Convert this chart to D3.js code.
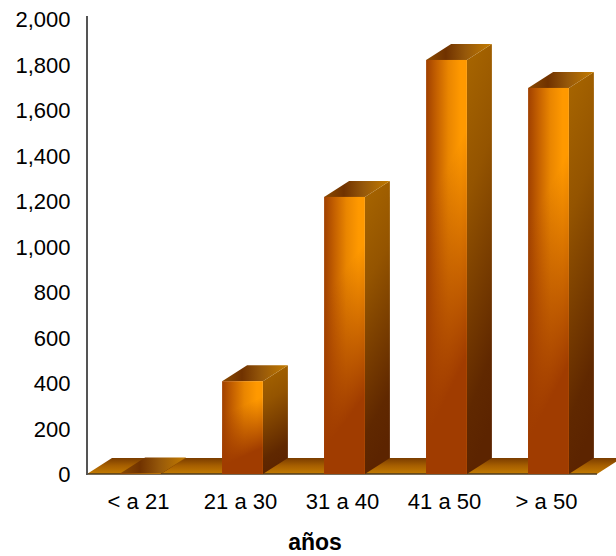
<!DOCTYPE html>
<html><head><meta charset="utf-8">
<style>html,body{margin:0;padding:0;background:#fff}svg{display:block}text{font-family:"Liberation Sans",Arial,sans-serif;fill:#000}</style>
<script src="https://cdnjs.cloudflare.com/ajax/libs/d3/7.8.5/d3.min.js"></script></head>
<body><svg id="c" width="616" height="556"></svg>
<script>
const categories=["< a 21","21 a 30","31 a 40","41 a 50","> a 50"];
const values=[2,408,1218,1820,1697];
const yTicks=[0,200,400,600,800,1000,1200,1400,1600,1800,2000];
const xAxisTitle="años";

const W=616,H=556,x0=87,floorRight=597,dx=25,dy=16;
const svg=d3.select("#c");
const y=d3.scaleLinear().domain([0,2000]).range([474,19]);
const x=d3.scaleBand().domain(categories).range([89.5,599.5]).paddingInner(0.6).paddingOuter(0.3);
const defs=svg.append("defs");
function grad(id,x2,y2,stops){
  const g=defs.append("linearGradient").attr("id",id).attr("x1",0).attr("y1",0).attr("x2",x2).attr("y2",y2);
  stops.forEach(s=>g.append("stop").attr("offset",s[0]).attr("stop-color",s[1]).attr("stop-opacity",s[2]===undefined?1:s[2]));
}
grad("front",1,0,[[0,"#a04000"],[0.25,"#c46000"],[0.55,"#ea8600"],[0.85,"#ff9900"],[1,"#ff9900"]]);
grad("frontShade",0.2,1,[[0,"#a03c00",0],[0.35,"#a03c00",0],[0.88,"#a03c00",1],[1,"#a03c00",1]]);
grad("side",0.15,1,[[0,"#a86600"],[0.35,"#945400"],[0.85,"#602800"],[1,"#5c2400"]]);
grad("top",1,0,[[0,"#8a4a00"],[0.3,"#703200"],[0.6,"#96580a"],[1,"#c47c00"]]);
grad("floor",0,1,[[0,"#7a3c00"],[0.5,"#a86000"],[1,"#c47c00"]]);

const pts=a=>a.map(p=>p.join(",")).join(" ");
// floor
svg.append("polygon").attr("fill","url(#floor)")
  .attr("points",pts([[x0,y(0)],[x0+dx,y(0)-dy],[floorRight+dx,y(0)-dy],[floorRight,y(0)]]));
svg.append("line").attr("x1",x0).attr("x2",floorRight).attr("y1",y(0)).attr("y2",y(0))
  .attr("stroke","#4a3a20").attr("stroke-width",1.6);
svg.append("line").attr("x1",x0).attr("x2",x0).attr("y1",y(2000)-3).attr("y2",y(0)+1)
  .attr("stroke","#555").attr("stroke-width",2);

// bars
const bars=svg.append("g").selectAll("g").data(values).join("g");
bars.each(function(v,i){
  const g=d3.select(this),l=x(categories[i]),r=l+x.bandwidth(),t=y(v),b=y(0);
  g.append("polygon").attr("fill","url(#side)").attr("points",pts([[r,t],[r+dx,t-dy],[r+dx,b-dy],[r,b]]));
  g.append("polygon").attr("fill","url(#top)").attr("points",pts([[l,t],[l+dx,t-dy],[r+dx,t-dy],[r,t]]));
  g.append("rect").attr("x",l).attr("y",t).attr("width",x.bandwidth()).attr("height",b-t).attr("fill","url(#front)");
  g.append("rect").attr("x",l).attr("y",t).attr("width",x.bandwidth()).attr("height",b-t).attr("fill","url(#frontShade)");
});

// axes
const ya=svg.append("g").attr("transform","translate(70.5,0)")
  .call(d3.axisLeft(y).tickValues(yTicks).tickFormat(d3.format(",")).tickSize(0).tickPadding(0));
ya.select(".domain").remove();
ya.selectAll("text").attr("font-size",22).attr("font-family",null).attr("dy","0.35em");
const xa=svg.append("g").attr("transform","translate(-2,493)")
  .call(d3.axisBottom(x).tickSize(0).tickPadding(0));
xa.select(".domain").remove();
xa.selectAll("text").attr("font-size",22).attr("font-family",null).attr("dy","0.72em");
svg.append("text").attr("x",315).attr("y",550).attr("text-anchor","middle")
  .attr("font-size",23).attr("font-weight","bold").text(xAxisTitle);
</script></body></html>
